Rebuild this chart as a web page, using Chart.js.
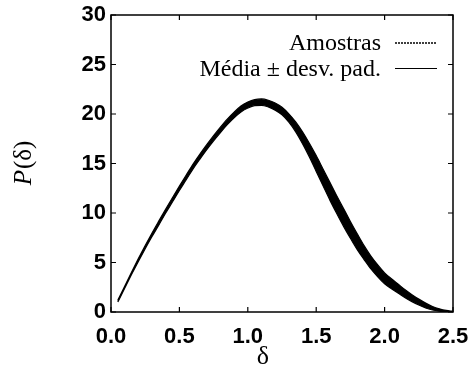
<!DOCTYPE html>
<html>
<head>
<meta charset="utf-8">
<script src="https://cdn.jsdelivr.net/npm/chart.js@4/dist/chart.umd.min.js"></script>
<style>
html,body{margin:0;padding:0;background:#fff;}
canvas{display:block;}
</style>
</head>
<body>
<canvas id="c" width="471" height="372"></canvas>
<script>
// δ values (x axis)
const delta = [0.05,0.10,0.15,0.20,0.25,0.30,0.35,0.40,0.45,0.50,
               0.55,0.60,0.65,0.70,0.75,0.80,0.85,0.90,0.95,1.00,
               1.05,1.10,1.15,1.20,1.25,1.30,1.35,1.40,1.45,1.50,
               1.55,1.60,1.65,1.70,1.75,1.80,1.85,1.90,1.95,2.00,
               2.05,2.10,2.15,2.20,2.25,2.30,2.35,2.40,2.45,2.50];
// Média (mean P(δ))
const media = [1.1,2.5,3.9,5.25,6.55,7.8,9.0,10.2,11.35,12.5,
               13.6,14.7,15.7,16.65,17.55,18.4,19.2,19.9,20.5,20.9,
               21.15,21.2,21.05,20.75,20.3,19.6,18.7,17.6,16.35,15.0,
               13.6,12.2,10.85,9.55,8.3,7.1,6.0,5.0,4.15,3.4,
               2.85,2.35,1.85,1.4,1.0,0.65,0.38,0.2,0.08,0.03];
// Desvio padrão (spread of the samples)
const desvPad = [0.1,0.1,0.12,0.14,0.16,0.18,0.2,0.2,0.22,0.22,
                 0.24,0.24,0.25,0.25,0.26,0.27,0.28,0.28,0.3,0.3,
                 0.3,0.32,0.34,0.36,0.38,0.42,0.5,0.6,0.7,0.8,
                 0.85,0.9,0.9,0.9,0.85,0.8,0.7,0.65,0.6,0.55,
                 0.5,0.45,0.4,0.35,0.3,0.25,0.18,0.12,0.08,0.05];
const xTicks = [0.0,0.5,1.0,1.5,2.0,2.5];
const yTicks = [0,5,10,15,20,25,30];
const legendLabels = ['Amostras','Média \u00B1 desv. pad.'];

const upper = delta.map((d,i)=>({x:d,y:media[i]+desvPad[i]}));
const lower = delta.map((d,i)=>({x:d,y:media[i]-desvPad[i]}));
const meanPts = delta.map((d,i)=>({x:d,y:media[i]}));

const frame = {
  id:'frame',
  afterDraw(chart){
    const ctx = chart.ctx, a = chart.chartArea;
    const xs = chart.scales.x, ys = chart.scales.y;
    ctx.save();
    ctx.strokeStyle = '#000';
    ctx.lineWidth = 1.5;
    ctx.strokeRect(a.left, a.top, a.right-a.left, a.bottom-a.top);
    ctx.lineWidth = 1.2;
    ctx.beginPath();
    xTicks.forEach(v=>{
      const px = xs.getPixelForValue(v);
      ctx.moveTo(px,a.bottom); ctx.lineTo(px,a.bottom-5);
      ctx.moveTo(px,a.top); ctx.lineTo(px,a.top+5);
    });
    yTicks.forEach(v=>{
      const py = ys.getPixelForValue(v);
      ctx.moveTo(a.left,py); ctx.lineTo(a.left+5,py);
      ctx.moveTo(a.right,py); ctx.lineTo(a.right-5,py);
    });
    ctx.stroke();
    // legend
    ctx.fillStyle = '#000';
    ctx.font = '24px "Liberation Serif"';
    ctx.textAlign = 'right';
    ctx.textBaseline = 'alphabetic';
    ctx.fillText(legendLabels[0], 381, 50);
    ctx.fillText(legendLabels[1], 381, 76);
    ctx.lineWidth = 1.5;
    ctx.setLineDash([2,1]);
    ctx.beginPath(); ctx.moveTo(395,43); ctx.lineTo(437,43); ctx.stroke();
    ctx.setLineDash([]);
    ctx.lineWidth = 1;
    ctx.beginPath(); ctx.moveTo(395,68.5); ctx.lineTo(437,68.5); ctx.stroke();
    // axis titles
    ctx.textAlign = 'center';
    ctx.font = '26px "Liberation Serif"';
    ctx.fillText('\u03B4', 263, 364);
    ctx.save();
    ctx.translate(31, (a.top+a.bottom)/2);
    ctx.rotate(-Math.PI/2);
    ctx.textAlign = 'left';
    ctx.font = 'italic 25px "Liberation Serif"';
    const wP = ctx.measureText('P').width;
    ctx.font = '25px "Liberation Serif"';
    const wR = ctx.measureText('(\u03B4)').width;
    const start = -(wP+wR)/2;
    ctx.font = 'italic 25px "Liberation Serif"';
    ctx.fillText('P', start, 0);
    ctx.font = '25px "Liberation Serif"';
    ctx.fillText('(\u03B4)', start+wP+1, 0);
    ctx.restore();
    ctx.restore();
  }
};

new Chart(document.getElementById('c'), {
  type:'line',
  data:{
    datasets:[
      {label:'Amostras (sup.)', data:upper, borderColor:'#000', borderWidth:1.2, pointRadius:0, fill:'+1', backgroundColor:'#000', cubicInterpolationMode:'monotone'},
      {label:'Amostras (inf.)', data:lower, borderColor:'#000', borderWidth:1.2, pointRadius:0, fill:false, cubicInterpolationMode:'monotone'},
      {label:legendLabels[1], data:meanPts, borderColor:'#000', borderWidth:1, pointRadius:0, fill:false, cubicInterpolationMode:'monotone'}
    ]
  },
  options:{
    responsive:false,
    animation:false,
    layout:{padding:{top:15,right:18,left:0,bottom:0}},
    plugins:{legend:{display:false}, tooltip:{enabled:false}},
    scales:{
      x:{type:'linear', min:0, max:2.5,
         afterFit(s){ s.height = 60; s.paddingLeft = 0; s.paddingRight = 0; },
         afterBuildTicks(s){ s.ticks = xTicks.map(v=>({value:v})); },
         grid:{display:false, drawTicks:false},
         border:{display:false},
         ticks:{padding:12, color:'#000', font:{family:'"Liberation Sans"', size:22, weight:'bold'}, callback:v=>v.toFixed(1), maxRotation:0}
      },
      y:{type:'linear', min:0, max:30,
         afterFit(s){ s.width = 111; s.paddingTop = 0; s.paddingBottom = 0; },
         afterBuildTicks(s){ s.ticks = yTicks.map(v=>({value:v})); },
         grid:{display:false, drawTicks:false},
         border:{display:false},
         ticks:{padding:5, color:'#000', font:{family:'"Liberation Sans"', size:22, weight:'bold'}}
      }
    }
  },
  plugins:[frame]
});
</script>
</body>
</html>
